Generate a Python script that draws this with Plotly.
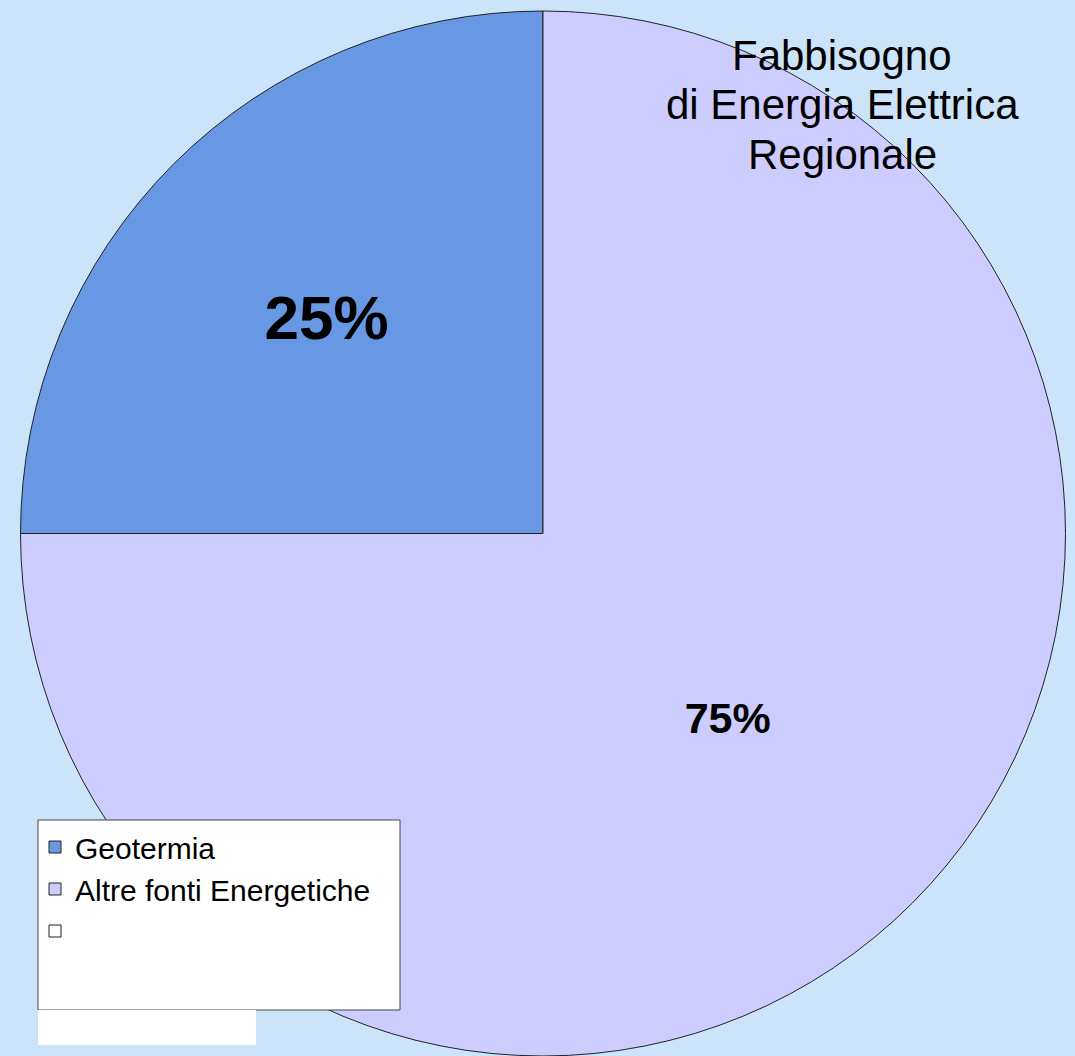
import plotly.graph_objects as go

labels = ["Geotermia", "Altre fonti Energetiche", " "]
values = [25, 75, 0]
colors = ["#6898E4", "#CCCCFF", "#FFFFFF"]
label_sizes = [62, 43, 30]
title_lines = ["Fabbisogno", "di Energia Elettrica", "Regionale"]

W, H = 1075, 1056

fig = go.Figure()
fig.add_trace(go.Pie(
    labels=labels,
    values=values,
    sort=False,
    direction="clockwise",
    rotation=270,
    marker=dict(colors=colors, line=dict(color="#222222", width=1)),
    textinfo="percent",
    texttemplate="%{percent:.0%}",
    textposition="inside",
    insidetextorientation="horizontal",
    textfont=dict(family="Liberation Sans, Arial", size=label_sizes, color="#000000", weight="bold"),
    domain=dict(x=[11 / W, 1], y=[0, 1 - 11 / H]),
    hoverinfo="label+percent",
))

# legend frame and white block below it
fig.add_shape(type="rect", xref="paper", yref="paper",
              x0=38 / W, x1=400 / W, y0=1 - 1010 / H, y1=1 - 820 / H,
              fillcolor="#FFFFFF", line=dict(color="#444444", width=1), layer="above")
fig.add_shape(type="rect", xref="paper", yref="paper",
              x0=38 / W, x1=256 / W, y0=1 - 1045 / H, y1=1 - 1010 / H,
              fillcolor="#FFFFFF", line=dict(width=0), layer="above")

for i, line in enumerate(title_lines):
    fig.add_annotation(
        text=line,
        xref="paper", yref="paper", x=842 / W, y=1 - (55 + 50 * i) / H,
        xanchor="center", yanchor="middle", showarrow=False, align="center",
        font=dict(family="Liberation Sans, Arial", size=42, color="#000000"),
    )

fig.update_layout(
    width=W, height=H,
    margin=dict(l=0, r=0, t=0, b=0),
    paper_bgcolor="#CCE4FA",
    plot_bgcolor="#CCE4FA",
    showlegend=True,
    legend=dict(
        x=35 / W, y=1 - 821 / H, xanchor="left", yanchor="top",
        bgcolor="rgba(0,0,0,0)", borderwidth=0,
        font=dict(family="Liberation Sans, Arial", size=30, color="#000000"),
        traceorder="normal",
    ),
)

fig.write_html("out.html")
